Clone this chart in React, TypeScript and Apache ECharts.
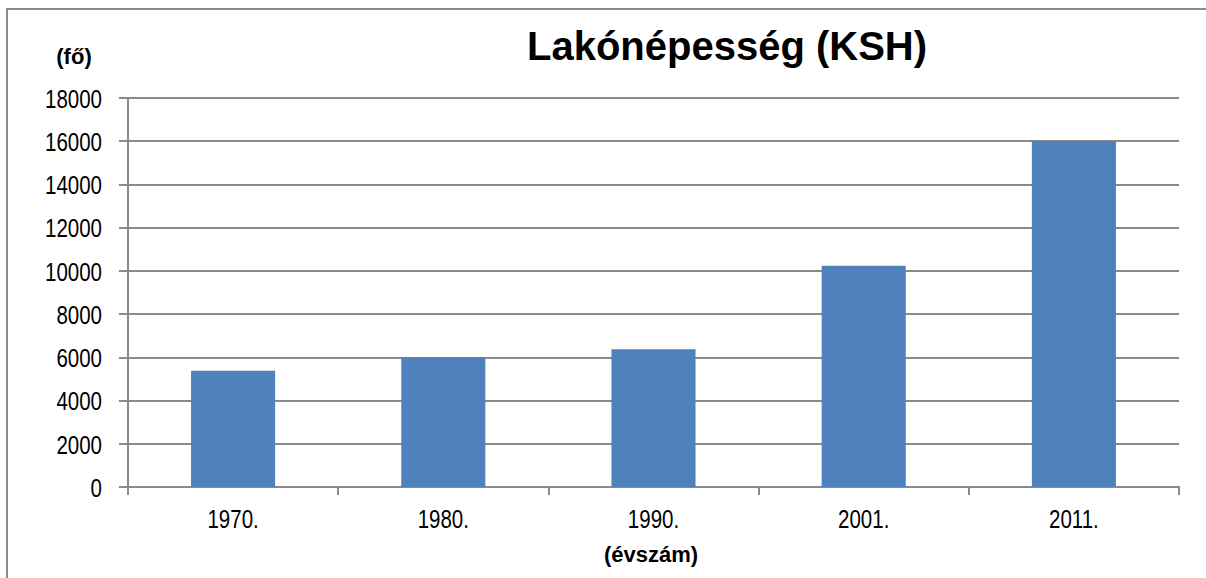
import React, { useEffect, useRef } from "react";
import * as echarts from "echarts";

const categories = ["1970.", "1980.", "1990.", "2001.", "2011."];
const population = [5380, 6000, 6370, 10240, 16010];
const yMin = 0;
const yMax = 18000;
const yInterval = 2000;
const yTickLabels = ["0", "2000", "4000", "6000", "8000", "10000", "12000", "14000", "16000", "18000"];

const titleText = "Lakónépesség (KSH)";
const yName = "(fő)";
const xName = "(évszám)";

export default function App() {
  const ref = useRef<HTMLDivElement>(null);
  useEffect(() => {
    if (!ref.current) return;
    const chart = echarts.init(ref.current, undefined, { renderer: "svg" });
    const font = "'Liberation Sans', Arial, sans-serif";
    const gray = "#8a8a8a";
    const narrowScale = 0.82;
    chart.setOption({
      animation: false,
      backgroundColor: "#ffffff",
      textStyle: { fontFamily: font },
      grid: { left: 128, right: 27, top: 98, bottom: 91 },
      xAxis: {
        type: "category",
        data: categories,
        axisLine: { show: true, lineStyle: { color: gray, width: 2 } },
        axisTick: { show: true, length: 8, lineStyle: { color: gray, width: 2 } },
        axisLabel: { show: false },
        splitLine: { show: false },
      },
      yAxis: {
        type: "value",
        min: yMin,
        max: yMax,
        interval: yInterval,
        axisLine: { show: true, lineStyle: { color: gray, width: 2 } },
        axisTick: { show: true, length: 9, lineStyle: { color: gray, width: 2 } },
        axisLabel: { show: false },
        splitLine: { show: true, lineStyle: { color: gray, width: 2 } },
      },
      series: [
        {
          type: "bar",
          data: population,
          barWidth: "40%",
          itemStyle: { color: "#4F81BD" },
        },
      ],
    });

    const labelStyle = {
      fontSize: 25,
      fontFamily: font,
      fill: "#000",
      textVerticalAlign: "middle",
    };
    const yLabels = yTickLabels.map((t) => {
      const py = chart.convertToPixel({ yAxisIndex: 0 }, Number(t)) as number;
      return {
        type: "text",
        x: 102,
        y: py + 1,
        scaleX: narrowScale,
        silent: true,
        style: { ...labelStyle, text: t, textAlign: "right" },
      };
    });
    const xLabels = categories.map((c) => {
      const px = chart.convertToPixel({ xAxisIndex: 0 }, c) as number;
      return {
        type: "text",
        x: px,
        y: 519,
        scaleX: narrowScale,
        silent: true,
        style: { ...labelStyle, text: c, textAlign: "center" },
      };
    });

    chart.setOption({
      graphic: [
        {
          type: "rect",
          shape: { x: 7, y: 9, width: 1400, height: 800 },
          style: { fill: "none", stroke: gray, lineWidth: 2 },
          silent: true,
        },
        {
          type: "text",
          x: 727,
          y: 46,
          style: {
            text: titleText,
            fontSize: 40,
            fontWeight: "bold",
            fontFamily: font,
            fill: "#000",
            textAlign: "center",
            textVerticalAlign: "middle",
          },
        },
        {
          type: "text",
          x: 74,
          y: 56,
          style: {
            text: yName,
            fontSize: 22,
            fontWeight: "bold",
            fontFamily: font,
            fill: "#000",
            textAlign: "center",
            textVerticalAlign: "middle",
          },
        },
        {
          type: "text",
          x: 651,
          y: 554,
          style: {
            text: xName,
            fontSize: 22,
            fontWeight: "bold",
            fontFamily: font,
            fill: "#000",
            textAlign: "center",
            textVerticalAlign: "middle",
          },
        },
        ...yLabels,
        ...xLabels,
      ],
    });
    return () => chart.dispose();
  }, []);
  return (
    <div
      ref={ref}
      style={{ position: "fixed", left: 0, top: 0, width: 1206, height: 578 }}
    />
  );
}
